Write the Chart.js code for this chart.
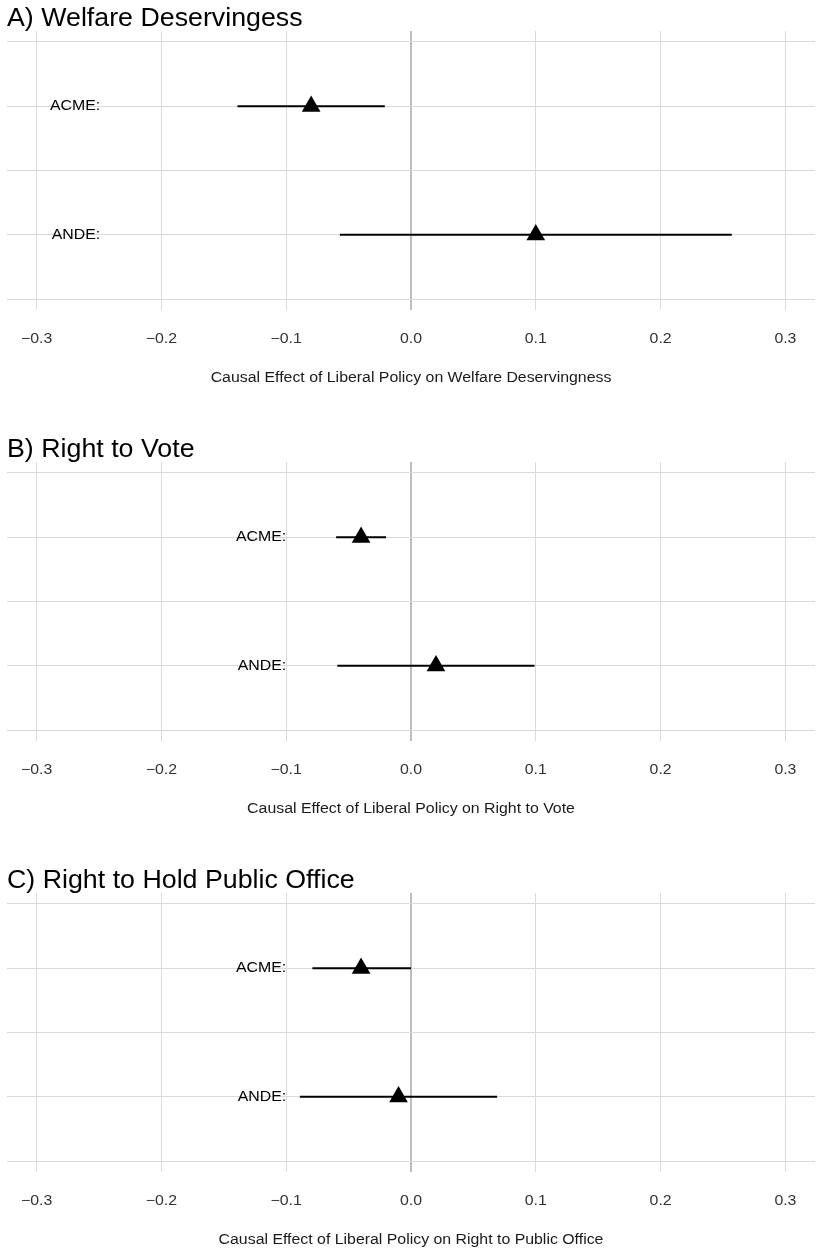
<!DOCTYPE html>
<html>
<head>
<meta charset="utf-8">
<script src="https://cdn.jsdelivr.net/npm/chart.js@4.4.1/dist/chart.umd.min.js"></script>
<style>
  html, body { margin: 0; padding: 0; background: #fff; overflow: hidden; }
  #page { position: relative; width: 816px; height: 1250px; }
  #page canvas { position: absolute; left: 0; }
</style>
</head>
<body>
<div id="page">
  <canvas id="panelA" width="816" height="431" style="top:0px"></canvas>
  <canvas id="panelB" width="816" height="431" style="top:431px"></canvas>
  <canvas id="panelC" width="816" height="431" style="top:862px"></canvas>
</div>
<script>
// Mediation estimates: average causal mediation effect (ACME) and
// average natural direct effect (ANDE) with their confidence bounds.
const rowLabels = ['ACME:', 'ANDE:'];
const rowPositions = [1, 2];
const xTicks = [-0.3, -0.2, -0.1, 0.0, 0.1, 0.2, 0.3];

const welfareEstimate = [-0.080, 0.100];
const welfareLower    = [-0.139, -0.057];
const welfareUpper    = [-0.021, 0.257];

const voteEstimate = [-0.040, 0.020];
const voteLower    = [-0.060, -0.059];
const voteUpper    = [-0.020, 0.099];

const officeEstimate = [-0.040, -0.010];
const officeLower    = [-0.079, -0.089];
const officeUpper    = [0.000, 0.069];

const FONT = '"Liberation Sans", Arial, Helvetica, sans-serif';
const SMALL = 13.8;

// Text in this figure is set slightly wide; widen labels horizontally
// (the large panel headings a little less than the small annotation text).
const stretchText = {
  id: 'stretchText',
  beforeInit(chart) {
    const ctx = chart.ctx;
    const fill = ctx.fillText.bind(ctx);
    ctx.fillText = (text, x, y, maxWidth) => {
      const m = /([\d.]+)px/.exec(ctx.font);
      const sx = m && parseFloat(m[1]) > 20 ? 1.05 : 1.15;
      ctx.save();
      ctx.translate(x, y);
      ctx.scale(sx, 1);
      if (maxWidth === undefined || maxWidth === null) fill(text, 0, 0);
      else fill(text, 0, 0, maxWidth / sx);
      ctx.restore();
    };
  }
};

// Row names written inside the plot, right-aligned at a fixed x value.
const rowNames = {
  id: 'rowNames',
  afterDatasetsDraw(chart, args, opts) {
    const { ctx, scales: { x, y } } = chart;
    ctx.save();
    ctx.font = `${SMALL}px ${FONT}`;
    ctx.fillStyle = '#000';
    ctx.textAlign = 'right';
    ctx.textBaseline = 'middle';
    rowLabels.forEach((t, i) => {
      ctx.fillText(t, x.getPixelForValue(opts.anchor), y.getPixelForValue(rowPositions[i]));
    });
    ctx.restore();
  }
};

function fmtTick(v) {
  if (Math.abs(v) < 1e-9) return '0.0';
  return (v < 0 ? '\u2212' : '') + Math.abs(v).toFixed(1);
}

function buildDatasets(est, lo, hi) {
  const intervals = rowPositions.map((r, i) => ({
    data: [{ x: lo[i], y: r }, { x: hi[i], y: r }],
    showLine: true,
    borderColor: '#000',
    borderWidth: 2,
    pointRadius: 0,
    order: 2
  }));
  const points = {
    data: rowPositions.map((r, i) => ({ x: est[i], y: r })),
    pointStyle: 'triangle',
    pointRadius: 10.8,
    pointHoverRadius: 10.8,
    backgroundColor: '#000',
    borderWidth: 0,
    order: 1
  };
  return [...intervals, points];
}

function makePanel(id, title, axisTitle, est, lo, hi, labelAnchor) {
  new Chart(document.getElementById(id), {
    type: 'scatter',
    data: { datasets: buildDatasets(est, lo, hi) },
    plugins: [stretchText, rowNames],
    options: {
      responsive: false,
      animation: false,
      devicePixelRatio: 1,
      layout: { autoPadding: false, padding: { left: 7, right: 1, top: 0, bottom: 0 } },
      plugins: {
        legend: { display: false },
        tooltip: { enabled: false },
        title: {
          display: true,
          text: title,
          align: 'start',
          color: '#000',
          font: { family: FONT, size: 25.5, weight: 'normal', lineHeight: 0.92 },
          padding: { top: 7.2, bottom: 0.4 }
        },
        rowNames: { anchor: labelAnchor }
      },
      scales: {
        x: {
          type: 'linear',
          min: -0.3237,
          max: 0.3237,
          afterBuildTicks: s => { s.ticks = xTicks.map(v => ({ value: v })); },
          afterFit: s => { s.height = 121; s.paddingLeft = 0; s.paddingRight = 0; },
          border: { display: false },
          grid: {
            drawTicks: true,
            tickLength: 21,
            tickColor: 'rgba(0,0,0,0)',
            color: c => (c.tick && Math.abs(c.tick.value) < 1e-9 ? '#bdbdbd' : '#dadada'),
            lineWidth: c => (c.tick && Math.abs(c.tick.value) < 1e-9 ? 2 : 1)
          },
          ticks: {
            padding: 0,
            color: '#333',
            font: { family: FONT, size: SMALL },
            maxRotation: 0,
            autoSkip: false,
            callback: v => fmtTick(v)
          },
          title: {
            display: true,
            text: axisTitle,
            color: '#1a1a1a',
            font: { family: FONT, size: SMALL },
            padding: { top: 0, bottom: 45 }
          }
        },
        y: {
          type: 'linear',
          reverse: true,
          min: 0.415,
          max: 2.585,
          afterBuildTicks: s => { s.ticks = [0.5, 1, 1.5, 2, 2.5].map(v => ({ value: v })); },
          afterFit: s => { s.width = 0; s.paddingTop = 0; s.paddingBottom = 0; },
          border: { display: false },
          grid: { drawTicks: false, color: '#dadada', lineWidth: 1 },
          ticks: { display: false }
        }
      }
    }
  });
}

makePanel('panelA', 'A) Welfare Deservingess',
  'Causal Effect of Liberal Policy on Welfare Deservingness',
  welfareEstimate, welfareLower, welfareUpper, -0.249);
makePanel('panelB', 'B) Right to Vote',
  'Causal Effect of Liberal Policy on Right to Vote',
  voteEstimate, voteLower, voteUpper, -0.1);
makePanel('panelC', 'C) Right to Hold Public Office',
  'Causal Effect of Liberal Policy on Right to Public Office',
  officeEstimate, officeLower, officeUpper, -0.1);
</script>
</body>
</html>
